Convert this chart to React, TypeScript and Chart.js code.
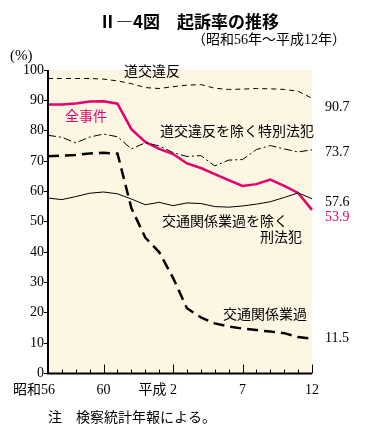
import React, { useEffect, useRef } from 'react';
import { Chart, registerables } from 'chart.js';

Chart.register(...registerables);

// ---- data ----
const years = [1981, 1982, 1983, 1984, 1985, 1986, 1987, 1988, 1989, 1990, 1991, 1992, 1993, 1994, 1995, 1996, 1997, 1998, 1999, 2000];
const xTickYears = [1985, 1990, 1995, 2000];
const xTickLabels = ['昭和56', '60', '平成 2', '7', '12'];
const yTicks = [0, 10, 20, 30, 40, 50, 60, 70, 80, 90, 100];

const doukouIhan = [97.2, 97.2, 97.2, 97.2, 97.0, 96.4, 95.5, 94.2, 93.9, 94.5, 95.0, 95.2, 94.0, 93.6, 93.7, 93.9, 93.8, 93.6, 93.0, 90.7];
const zenJiken = [88.6, 88.6, 89.0, 89.6, 89.7, 88.9, 80.5, 76.3, 74.0, 72.3, 69.2, 67.7, 65.7, 63.7, 61.8, 62.4, 63.9, 61.8, 59.5, 53.9];
const tokubetsuHouhan = [78.5, 77.8, 76.0, 77.9, 78.9, 78.0, 74.0, 76.0, 75.0, 72.8, 71.5, 71.8, 68.4, 70.3, 70.5, 73.8, 75.1, 74.0, 73.0, 73.7];
const keihouhan = [57.8, 57.3, 58.3, 59.4, 59.8, 59.2, 57.5, 55.6, 56.4, 55.3, 56.2, 56.0, 55.0, 54.8, 55.2, 55.8, 56.6, 58.0, 59.5, 57.6];
const koutsuuGyoka = [71.6, 71.8, 72.0, 72.5, 72.7, 72.5, 54.5, 44.8, 40.0, 31.5, 21.5, 18.5, 16.5, 15.5, 14.8, 14.3, 13.8, 13.3, 12.0, 11.5];

const endValues = ['90.7', '73.7', '57.6', '53.9', '11.5'];
const seriesLabels = ['道交違反', '全事件', '道交違反を除く特別法犯', '交通関係業過を除く刑法犯', '交通関係業過'];

const MAGENTA = '#e5006e';
const SERIF = '"Liberation Serif", "Noto Sans CJK JP", serif';

const decorPlugin = {
  id: 'decor',
  beforeDraw(chart: any) {
    const { ctx, chartArea } = chart;
    ctx.save();
    ctx.fillStyle = '#fdf6e2';
    ctx.fillRect(chartArea.left, chartArea.top, chartArea.right - chartArea.left, chartArea.bottom - chartArea.top);
    ctx.restore();
  },
  afterDatasetsDraw(chart: any) {
    const { ctx, chartArea } = chart;
    const xs = chart.scales.x;
    ctx.save();
    // axes
    ctx.strokeStyle = '#000';
    ctx.lineWidth = 2;
    ctx.beginPath();
    ctx.moveTo(chartArea.left, chartArea.top);
    ctx.lineTo(chartArea.left, chartArea.bottom);
    ctx.lineTo(chartArea.right, chartArea.bottom);
    ctx.stroke();
    // x ticks (inside)
    ctx.lineWidth = 1;
    years.forEach((yr, i) => {
      const x = Math.round(xs.getPixelForValue(i)) + 0.5;
      if (i === 0) return;
      const len = xTickYears.includes(yr) ? 9 : 4;
      ctx.beginPath();
      ctx.moveTo(x, chartArea.bottom);
      ctx.lineTo(x, chartArea.bottom - len);
      ctx.stroke();
    });

    // text
    ctx.textBaseline = 'middle';
    ctx.fillStyle = '#000';
    ctx.font = '14px ' + SERIF;
    // x labels
    ctx.textAlign = 'left';
    ctx.fillText(xTickLabels[0], 13, 390);
    ctx.textAlign = 'center';
    ctx.fillText(xTickLabels[1], xs.getPixelForValue(years.indexOf(1985)), 390);
    ctx.textAlign = 'right';
    ctx.fillText(xTickLabels[2], xs.getPixelForValue(years.indexOf(1990)) + 4, 390);
    ctx.textAlign = 'center';
    ctx.fillText(xTickLabels[3], xs.getPixelForValue(years.indexOf(1995)), 390);
    ctx.fillText(xTickLabels[4], xs.getPixelForValue(years.indexOf(2000)), 390);

    // series labels
    ctx.textAlign = 'center';
    ctx.fillText(seriesLabels[0], 152, 72);
    ctx.textAlign = 'left';
    ctx.fillStyle = MAGENTA;
    ctx.fillText(seriesLabels[1], 65, 117);
    ctx.fillStyle = '#000';
    ctx.fillText(seriesLabels[2], 160, 132);
    ctx.fillText('交通関係業過を除く', 162, 222);
    ctx.fillText('刑法犯', 260, 238);
    ctx.fillText(seriesLabels[4], 223, 315);

    // end values
    const ex = chartArea.right + 13;
    ctx.fillText(endValues[0], ex, 107);
    ctx.fillText(endValues[1], ex, 152);
    ctx.fillText(endValues[2], ex, 202);
    ctx.fillStyle = MAGENTA;
    ctx.fillText(endValues[3], ex, 217);
    ctx.fillStyle = '#000';
    ctx.fillText(endValues[4], ex, 338);

    // titles
    ctx.font = 'bold 17px "Noto Sans CJK JP", sans-serif';
    ctx.textAlign = 'center';
    ctx.fillText('Ⅱ―4図　起訴率の推移', 189, 22);
    ctx.font = '14px ' + SERIF;
    ctx.textAlign = 'right';
    ctx.fillText('（昭和56年～平成12年）', 346, 40);
    ctx.textAlign = 'left';
    ctx.font = '15px ' + SERIF;
    ctx.fillText('(%)', 10, 56);
    ctx.font = '14px ' + SERIF;
    ctx.fillText('注　検察統計年報による。', 48, 418);
    ctx.restore();
  },
};

export default function App() {
  const ref = useRef<HTMLCanvasElement | null>(null);
  useEffect(() => {
    if (!ref.current) return;
    const thin = { pointRadius: 0, tension: 0, fill: false, borderColor: '#000', borderWidth: 1 };
    const chart = new Chart(ref.current, {
      type: 'line',
      data: {
        labels: years.map(String),
        datasets: [
          { ...thin, label: seriesLabels[0], data: doukouIhan, borderDash: [5, 4] },
          { ...thin, label: seriesLabels[2], data: tokubetsuHouhan, borderDash: [8, 3, 2, 3] },
          { ...thin, label: seriesLabels[3], data: keihouhan },
          { ...thin, label: seriesLabels[4], data: koutsuuGyoka, borderWidth: 2.5, borderDash: [11, 6] },
          { ...thin, label: seriesLabels[1], data: zenJiken, borderColor: MAGENTA, borderWidth: 2.5 },
        ],
      },
      options: {
        responsive: false,
        animation: false,
        devicePixelRatio: 1,
        layout: { padding: { left: 0, right: 58, top: 70, bottom: 0 } },
        plugins: { legend: { display: false }, tooltip: { enabled: false }, title: { display: false } },
        scales: {
          x: {
            type: 'category',
            offset: false,
            grid: { display: false },
            border: { display: false },
            ticks: { display: false },
            afterFit: (s: any) => { s.height = 70.5; },
          },
          y: {
            min: 0,
            max: 100,
            afterBuildTicks: (s: any) => { s.ticks = yTicks.map((v) => ({ value: v })); },
            grid: { drawOnChartArea: false, drawTicks: true, tickLength: 4, color: '#000', lineWidth: 1 },
            border: { display: false },
            ticks: { padding: 0, color: '#000', font: { family: 'Liberation Serif', size: 14 } },
            afterFit: (s: any) => { s.width = 48; },
          },
        },
      },
      plugins: [decorPlugin],
    } as any);
    return () => chart.destroy();
  }, []);
  return (
    <div style={{ position: 'fixed', left: 0, top: 0, width: 370, height: 444, background: '#fff' }}>
      <canvas ref={ref} width={370} height={444} style={{ display: 'block' }} />
    </div>
  );
}
